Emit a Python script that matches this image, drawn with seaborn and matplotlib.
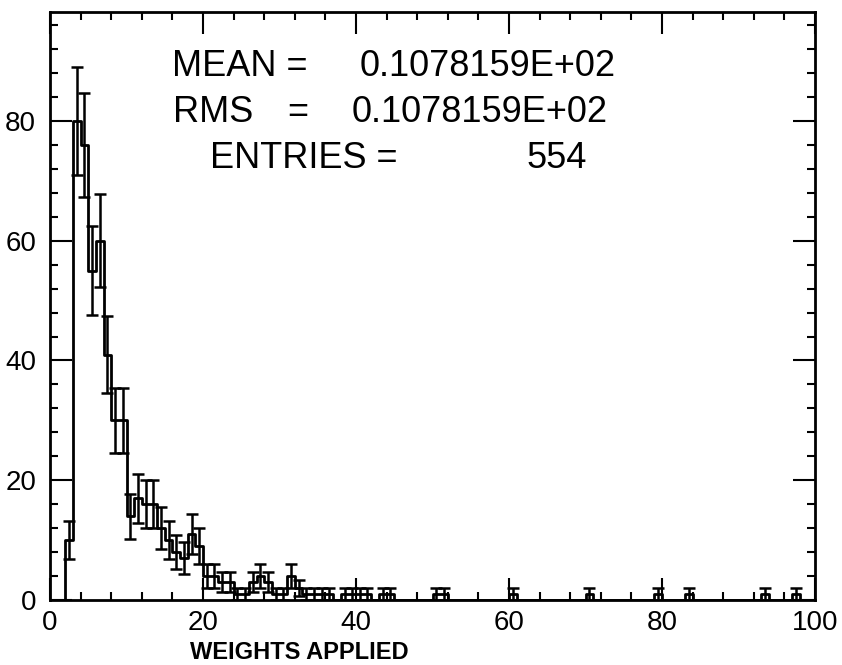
import numpy as np
import pandas as pd
import matplotlib
matplotlib.use("Agg")
import matplotlib.pyplot as plt
import seaborn as sns
from matplotlib.ticker import MultipleLocator

# Histogram contents: lower bin edge (bin width 1) and number of entries
bin_lo = list(range(2, 45)) + [50, 51, 60, 70, 79, 83, 93, 97]
counts = [10, 80, 76, 55, 60, 41, 30, 30, 14, 17, 16, 16, 12, 10, 8, 7, 11, 9,
          4, 4, 3, 3, 1, 1, 3, 4, 3, 1, 1, 4, 2, 1, 1, 1, 1, 0, 1, 1, 1, 1,
          0, 1, 1,
          1, 1, 1, 1, 1, 1, 1, 1]

x_ticks = [0, 20, 40, 60, 80, 100]
y_ticks = [0, 20, 40, 60, 80]

stats_labels = ["MEAN =", "RMS", "ENTRIES ="]
stats_values = ["0.1078159E+02", "0.1078159E+02", "554"]

sns.set_style("ticks")
plt.rcParams["font.family"] = ["Liberation Sans", "DejaVu Sans"]
plt.rcParams["text.color"] = "black"
plt.rcParams["axes.labelcolor"] = "black"

W, H = 842, 665
fig = plt.figure(figsize=(W / 100, H / 100), dpi=100)
ax = fig.add_axes([50 / W, 1 - 600 / H, (815 - 50) / W, (600 - 12) / H])

df = pd.DataFrame({"centre": np.array(bin_lo, dtype=float) + 0.5,
                   "n": np.array(counts, dtype=float)})
sns.histplot(data=df, x="centre", weights="n", binwidth=1, binrange=(0, 100),
             element="step", fill=False, color="black", linewidth=2.0, ax=ax)

nz = df[df["n"] > 0]
ax.errorbar(nz["centre"], nz["n"], yerr=np.sqrt(nz["n"]), fmt="none",
            ecolor="black", elinewidth=1.8, capsize=4.5, capthick=1.8)

ax.set_xlim(0, 100)
ax.set_ylim(0, 98.2)
ax.set_xticks(x_ticks)
ax.set_yticks(y_ticks)
ax.xaxis.set_minor_locator(MultipleLocator(4))
ax.yaxis.set_minor_locator(MultipleLocator(4))
ax.tick_params(which="both", direction="in", top=True, right=True,
               width=1.5, colors="black", labelsize=20)
ax.tick_params(which="major", length=16)
ax.tick_params(which="minor", length=6)
ax.tick_params(axis="x", pad=7)
ax.tick_params(axis="y", pad=10)
for s in ax.spines.values():
    s.set_linewidth(2.0)
    s.set_color("black")

ax.set_ylabel("")
ax.set_xlabel("WEIGHTS APPLIED", fontsize=17, fontweight="bold", color="black")
ax.xaxis.set_label_coords((299 - 50) / (815 - 50), -0.07)

# Statistics box text
def put(px, py, s):
    fig.text(px / W, 1 - py / H, s, fontsize=26, ha="left", va="baseline",
             color="black")

put(172, 76, stats_labels[0])
put(360, 76, stats_values[0])
put(173, 122, stats_labels[1])
put(287, 122, "=")
put(352, 122, stats_values[1])
put(210, 168, stats_labels[2])
put(527, 168, stats_values[2])

fig.savefig("out.png", dpi=100)
